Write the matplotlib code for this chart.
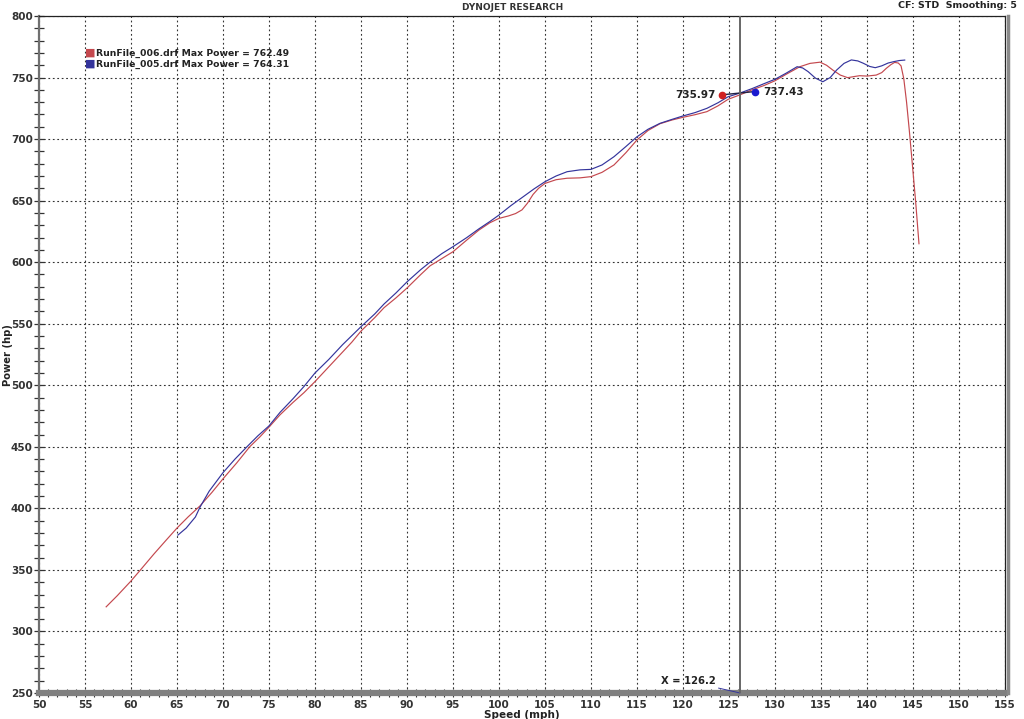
import matplotlib
matplotlib.use("Agg")
import matplotlib.pyplot as plt
from matplotlib.ticker import MultipleLocator
from matplotlib.transforms import offset_copy

# ---------------- data ----------------
run006_speed = [57.3, 58.5, 60.0, 61.2, 62.5, 63.8, 65.0, 66.2, 67.5, 68.8, 70.0, 71.5,
                72.9, 74.0, 75.0, 76.2, 77.6, 78.8, 80.0, 81.5, 83.0, 84.0, 85.0, 86.5,
                87.5, 88.8, 90.0, 91.5, 92.5, 93.8, 95.0, 96.5, 97.8, 99.0, 100.0, 101.0,
                101.8, 102.5, 103.1, 103.7, 104.3, 105.0, 106.2, 107.4, 108.8, 110.0, 111.2,
                112.5, 113.8, 115.0, 116.2, 117.5, 118.8, 120.0, 121.3, 122.6, 123.8, 124.9,
                126.2, 127.5, 128.8, 130.0, 131.3, 132.7, 133.8, 134.9, 135.6, 136.3, 137.1,
                137.9, 138.6, 139.2, 140.0, 141.0, 141.6, 142.1, 142.6, 143.0, 143.4, 143.7,
                144.0, 144.3, 144.6, 144.9, 145.3, 145.65]
run006_power = [320, 329, 341, 351.5, 363, 374, 384, 393, 402, 413, 424, 437,
                450, 458, 466, 476, 486, 494, 503, 515, 527, 535, 544, 555,
                563, 571, 579, 590, 597, 603, 608.5, 618, 626, 632, 635.6, 637.5,
                639.5, 642.5, 648, 655, 660, 664, 667, 668.2, 668.5, 669.5, 673,
                679, 689, 699.3, 707, 712.5, 715.5, 717.7, 719.8, 722.3, 727, 732.3,
                735.97, 740, 743.5, 747.4, 753, 758.8, 761.5, 762.49, 760, 756, 752,
                749.9, 750.8, 751.5, 751.2, 752, 754, 757.5, 760.5, 762.3, 761.8, 759.5,
                749, 730, 707, 682, 648, 615]

run005_speed = [65.1, 66.0, 67.0, 67.5, 68.5, 70.0, 71.3, 72.6, 73.8, 75.0, 76.2, 77.6,
                78.8, 80.0, 81.5, 83.0, 85.0, 86.5, 87.5, 88.8, 90.0, 91.5, 92.5, 93.8,
                95.0, 96.5, 97.8, 99.0, 100.0, 101.3, 102.6, 103.8, 105.0, 106.2, 107.4,
                108.8, 110.0, 111.2, 112.5, 113.8, 115.0, 116.2, 117.5, 118.8, 120.0, 121.3,
                122.6, 123.8, 124.9, 126.2, 127.5, 128.8, 130.0, 131.2, 132.4, 133.0, 133.6,
                134.4, 135.2, 136.0, 136.7, 137.5, 138.3, 139.0, 139.6, 140.3, 140.9, 141.6,
                142.3, 142.9, 143.5, 144.1]
run005_power = [378.3, 384, 393, 401, 414, 429, 440, 450, 459, 467, 478, 489,
                499, 510, 521, 533, 547.6, 558, 566, 575, 584, 594, 600, 607,
                612.6, 620, 627, 633, 638.3, 646, 653, 659.5, 665.4, 670, 673.5,
                675, 675.4, 679, 685.7, 694, 701.9, 708, 712.8, 716, 718.8, 721.5,
                725, 729.5, 734.4, 737.43, 741, 745, 748.6, 753.5, 758.8, 757.8, 754.8,
                749.5, 746.6, 750, 756.1, 761.5, 764.31, 763.5, 761.6, 759, 758, 759.5,
                761.8, 762.9, 763.8, 764.2]

run_names = ["RunFile_006.drf", "RunFile_005.drf"]
max_power = [762.49, 764.31]
cursor_x = 126.2
cursor_values = [735.97, 737.43]

red = "#c4484e"
blue = "#34349c"

# ---------------- figure ----------------
fig = plt.figure(figsize=(10.24, 7.19), dpi=100)
ax = fig.add_axes([39 / 1024, 1 - 693 / 719, 966 / 1024, 677 / 719])
ax.set_xlim(50, 155)
ax.set_ylim(250, 800)

ax.plot(run006_speed, run006_power, color=red, lw=0.85, zorder=3)
ax.plot(run005_speed, run005_power, color=blue, lw=0.85, zorder=3)

# grid
ax.xaxis.set_major_locator(MultipleLocator(5))
ax.xaxis.set_minor_locator(MultipleLocator(1))
ax.yaxis.set_major_locator(MultipleLocator(50))
ax.yaxis.set_minor_locator(MultipleLocator(10))
ax.grid(True, which="major", color="#333333", linestyle=(0, (1.6, 2.4)), lw=0.8)
ax.set_axisbelow(True)

# spines
for s in ("top", "right"):
    ax.spines[s].set_color("#222222")
    ax.spines[s].set_linewidth(0.9)
ax.spines["left"].set_color("#707070")
ax.spines["left"].set_linewidth(1.6)
ax.spines["bottom"].set_color("#808080")
ax.spines["bottom"].set_linewidth(4.5)

# shadow on right edge
shadow = offset_copy(ax.transAxes, fig=fig, x=2.5, y=0, units="dots")
ax.plot([1, 1], [0, 1], transform=shadow, color="#8a8a8a", lw=2.5, clip_on=False, zorder=5)

ax.tick_params(axis="both", which="both", direction="inout", colors="#333333",
               labelcolor="#333333", labelsize=7.5)
ax.tick_params(axis="x", which="major", length=6, width=0.8, pad=2)
ax.tick_params(axis="x", which="minor", length=6, width=0.8)
ax.tick_params(axis="y", which="major", length=7, width=0.9, pad=1)
ax.tick_params(axis="y", which="minor", length=7, width=0.9)
for lab in ax.get_xticklabels() + ax.get_yticklabels():
    lab.set_fontweight("bold")

ax.set_xlabel("Speed (mph)", fontsize=7.5, fontweight="bold", labelpad=0, color="#222222")
fig.text(8.5 / 1024, 1 - 355 / 719, "Power (hp)", rotation=90, fontsize=7.2,
         fontweight="bold", ha="center", va="center", color="#222222")

# cursor
ax.axvline(cursor_x, color="#666666", lw=1.4, zorder=4)
ax.annotate(f"X = {cursor_x}", xy=(cursor_x, 250), xycoords="data",
            xytext=(-17.5, 8.5), textcoords="offset points", ha="right", va="center",
            fontsize=7.2, fontweight="bold", color="#222222",
            arrowprops=dict(arrowstyle="-", color=blue, lw=0.7, shrinkA=0, shrinkB=0))

# cursor value markers
red_pt = offset_copy(ax.transData, fig=fig, x=-18, y=0, units="dots")
blue_pt = offset_copy(ax.transData, fig=fig, x=15, y=1.5, units="dots")
ax.plot([cursor_x], [cursor_values[0]], "o", ms=4.5, color="#d02020", transform=red_pt, zorder=6)
ax.plot([cursor_x], [cursor_values[1]], "o", ms=4.5, color="#1a1ad0", transform=blue_pt, zorder=6)
ax.annotate("", xy=(cursor_x, cursor_values[1]), xycoords=blue_pt,
            xytext=(cursor_x, cursor_values[0]), textcoords=red_pt,
            arrowprops=dict(arrowstyle="-", color="#222244", lw=1.0, shrinkA=0, shrinkB=0))
ax.annotate(f"{cursor_values[0]:.2f}", xy=(cursor_x, cursor_values[0]), xytext=(-17.5, 0),
            textcoords="offset points", ha="right", va="center", fontsize=7.5,
            fontweight="bold", color="#222222")
ax.annotate(f"{cursor_values[1]:.2f}", xy=(cursor_x, cursor_values[1]), xytext=(16.5, 1),
            textcoords="offset points", ha="left", va="center", fontsize=7.5,
            fontweight="bold", color="#222222")

# legend
leg_colors = [red, blue]
for i, (name, mp) in enumerate(zip(run_names, max_power)):
    yfrac = 1 - (53 + 11 * i) / 719
    fig.text(85 / 1024, yfrac, "\u25A0", fontsize=8, color=leg_colors[i], va="center", ha="left")
    fig.text(95.5 / 1024, yfrac, f"{name} Max Power = {mp:.2f}", fontsize=6.7, fontweight="bold",
             color="#222222", va="center", ha="left")

# header texts
fig.text(513 / 1024, 1 - 7 / 719, "DYNOJET RESEARCH", fontsize=6.5, fontweight="bold",
         ha="center", va="center", color="#333333")
fig.text(1017 / 1024, 1 - 6 / 719, "CF: STD  Smoothing: 5", fontsize=6.8, fontweight="bold",
         ha="right", va="center", color="#222222")

fig.savefig("out.png", dpi=100)
